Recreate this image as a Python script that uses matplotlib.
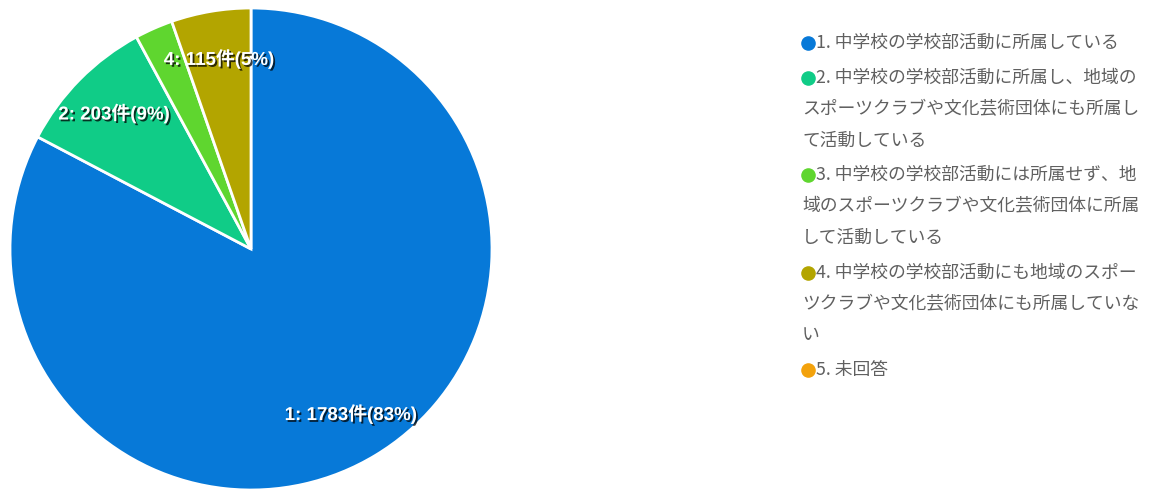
import matplotlib
matplotlib.use("Agg")
import matplotlib.pyplot as plt
import matplotlib.patheffects as pe
import numpy as np

# ---- data ----
categories = ["1", "2", "3", "4", "5"]
values = [1783, 203, 55, 115, 0]
colors = ["#0779d8", "#10cc87", "#5fd62f", "#b3a500", "#f3a20c"]
legend_lines = [
    ["1. 中学校の学校部活動に所属している"],
    ["2. 中学校の学校部活動に所属し、地域の",
     "スポーツクラブや文化芸術団体にも所属し",
     "て活動している"],
    ["3. 中学校の学校部活動には所属せず、地",
     "域のスポーツクラブや文化芸術団体に所属",
     "して活動している"],
    ["4. 中学校の学校部活動にも地域のスポー",
     "ツクラブや文化芸術団体にも所属していな",
     "い"],
    ["5. 未回答"],
]
show_label = [True, True, False, True, False]

plt.rcParams['font.family'] = ['Noto Sans CJK JP', 'DejaVu Sans']

W, H = 1164, 491
fig = plt.figure(figsize=(W / 100, H / 100), dpi=100)
ax = fig.add_axes([0, 0, 1, 1])

cx, cy, R = 251, H - 249, 241
draw_idx = [i for i, v in enumerate(values) if v > 0]
wedges, _ = ax.pie([values[i] for i in draw_idx],
                   colors=[colors[i] for i in draw_idx],
                   startangle=90, counterclock=False,
                   center=(cx, cy), radius=R,
                   wedgeprops=dict(edgecolor="white", linewidth=2))
ax.set_xlim(0, W)
ax.set_ylim(0, H)
ax.set_aspect("equal")
ax.axis("off")

total = sum(values)
for w, i in zip(wedges, draw_idx):
    if not show_label[i]:
        continue
    mid = np.deg2rad((w.theta1 + w.theta2) / 2)
    r = 0.80 * R
    x = cx + r * np.cos(mid)
    y = cy + r * np.sin(mid)
    pct = round(100 * values[i] / total)
    ax.text(x, y, f"{categories[i]}: {values[i]}件({pct}%)",
            ha="center", va="center", color="white", fontsize=13.5,
            fontweight="bold", family=["Liberation Sans", "Noto Sans CJK JP"],
            path_effects=[pe.withSimplePatchShadow(offset=(1.3, -1.3),
                                                   shadow_rgbFace="black",
                                                   alpha=0.75)])

# ---- legend ----
line_h = 31.5
y = 43
for i, lines in enumerate(legend_lines):
    ax.scatter([808], [H - y], s=90, color=colors[i], zorder=5)
    for j, ln in enumerate(lines):
        x0 = 816 if j == 0 else 802
        ax.text(x0, H - y, ln, ha="left", va="center", fontsize=12.8,
                color="#606060")
        y += line_h
    y += 3

fig.savefig("out.png", dpi=100)
